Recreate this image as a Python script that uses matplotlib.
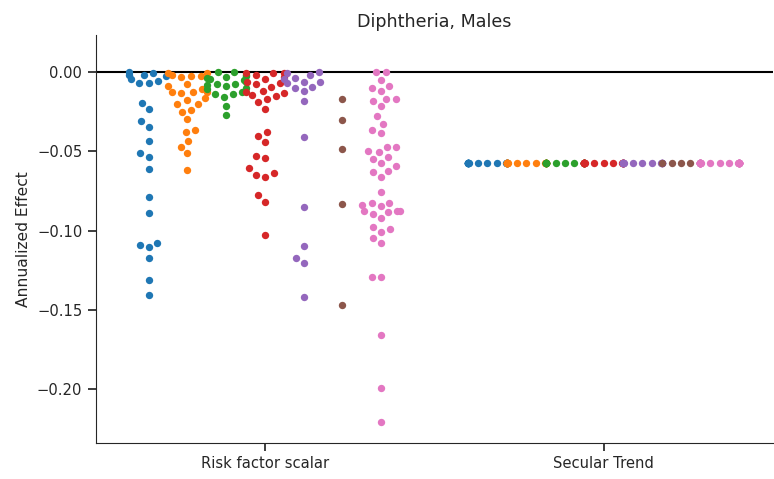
import numpy as np
import pandas as pd
import matplotlib
matplotlib.use("Agg")
import matplotlib.pyplot as plt
import seaborn as sns

# values (annualized effect per point)
blue_vals = [0.0005, -0.0003, -0.0008, -0.0014, -0.0015, -0.0023, -0.0042, -0.0057,
             -0.0066, -0.0066, -0.0192, -0.0234, -0.0308, -0.0344, -0.0432, -0.0512,
             -0.0533, -0.0609, -0.0789, -0.0888, -0.1076, -0.1092, -0.1101, -0.1173,
             -0.1312, -0.1406]
orange_vals = [-0.0006, -0.0004, -0.0017, -0.0021, -0.0023, -0.0032, -0.0076, -0.0087,
               -0.0107, -0.0123, -0.0126, -0.0127, -0.0133, -0.0164, -0.0175, -0.0200,
               -0.0202, -0.0238, -0.0249, -0.0295, -0.0364, -0.0375, -0.0432, -0.0470,
               -0.0512, -0.0617]
green_vals = [0.0002, -0.0001, -0.0015, -0.0023, -0.0027, -0.0036, -0.0040, -0.0049,
              -0.0061, -0.0072, -0.0074, -0.0082, -0.0087, -0.0099, -0.0105, -0.0124,
              -0.0135, -0.0139, -0.0156, -0.0213, -0.0272]
red_vals = [-0.0005, -0.0006, -0.0007, -0.0017, -0.0030, -0.0039, -0.0059, -0.0066,
            -0.0076, -0.0095, -0.0116, -0.0124, -0.0133, -0.0143, -0.0148, -0.0169,
            -0.0189, -0.0229, -0.0375, -0.0400, -0.0442, -0.0527, -0.0539, -0.0606,
            -0.0638, -0.0649, -0.0659, -0.0775, -0.0817, -0.1027]
purple_vals = [-0.0001, -0.0003, -0.0017, -0.0033, -0.0040, -0.0058, -0.0061, -0.0068,
               -0.0090, -0.0099, -0.0118, -0.0184, -0.0410, -0.0849, -0.1095, -0.1175,
               -0.1206, -0.1417]
brown_vals = [-0.0171, -0.0301, -0.0486, -0.0834, -0.1470]
pink_vals = [0.0002, 0.0001, -0.0047, -0.0088, -0.0099, -0.0118, -0.0167, -0.0167,
             -0.0181, -0.0215, -0.0278, -0.0325, -0.0362, -0.0383, -0.0470, -0.0470,
             -0.0497, -0.0505, -0.0533, -0.0549, -0.0575, -0.0592, -0.0621, -0.0632,
             -0.0663, -0.0758, -0.0823, -0.0827, -0.0838, -0.0844, -0.0874, -0.0876,
             -0.0878, -0.0882, -0.0895, -0.0922, -0.0975, -0.0991, -0.1007, -0.1046,
             -0.1080, -0.1291, -0.1295, -0.1659, -0.1996, -0.2206]
secular_effect = -0.0575

categories = ["Risk factor scalar", "Secular Trend"]
hue_vals = [blue_vals, orange_vals, green_vals, red_vals, purple_vals, brown_vals, pink_vals]
colors = ["#1f77b4", "#ff7f0e", "#2ca02c", "#d62728", "#9467bd", "#8c564b", "#e377c2"]

sns.set_style("ticks")
plt.rcParams["font.family"] = ["DejaVu Sans"]
fig = plt.figure(figsize=(7.74, 4.79), dpi=100)
ax = fig.add_axes([0.1234, 0.0752, 0.8753, 0.8518])
ax.set_xlim(-0.5, 1.5)
ax.set_ylim(-0.2341, 0.0236)

# pixel scale of the axes, used to lay out the swarm
p0 = ax.transData.transform((0, 0))
p1 = ax.transData.transform((1, 1))
px_x = p1[0] - p0[0]
px_y = p1[1] - p0[1]

dot_gap = 6.7 * fig.dpi / 72      # spacing between dot centres (px)
n_hue = len(hue_vals)
band = 0.8 / n_hue                # dodge width per hue


def swarm(vals, center):
    y = np.asarray(vals, dtype=float) * px_y
    xs = np.zeros(len(y))
    placed = []
    for i in np.argsort(y, kind="stable"):
        yi = y[i]
        near = [(px, py) for px, py in placed if abs(py - yi) < dot_gap]
        cands = [0.0]
        for px, py in near:
            dx = np.sqrt(dot_gap ** 2 - (py - yi) ** 2)
            cands += [px - dx, px + dx]
        cands.sort(key=abs)
        for c in cands:
            if all((c - px) ** 2 + (yi - py) ** 2 >= dot_gap ** 2 - 1e-6 for px, py in near):
                break
        placed.append((c, yi))
        xs[i] = c
    half = band / 2 * px_x
    xs = np.clip(xs, -half, half)
    return center + xs / px_x


ax.axhline(0, color="black", lw=1.5, zorder=1)
for k, cat in enumerate(categories):
    for j, (vals, col) in enumerate(zip(hue_vals, colors)):
        if cat == "Secular Trend":
            vals = [secular_effect] * len(vals)
        center = k + (j - (n_hue - 1) / 2) * band
        ax.scatter(swarm(vals, center), vals, s=5.3 ** 2, color=col,
                   linewidths=0, zorder=3)

ax.set_xticks(range(len(categories)))
ax.set_xticklabels(categories)
ax.set_yticks([0.0, -0.05, -0.10, -0.15, -0.20])
ax.tick_params(direction="out", length=6, width=1.25, labelsize=10.6)
ax.set_ylabel("Annualized Effect", fontsize=11.2)
ax.set_title("Diphtheria, Males", fontsize=12.6)
sns.despine(ax=ax)

fig.savefig("out.png", dpi=100)
